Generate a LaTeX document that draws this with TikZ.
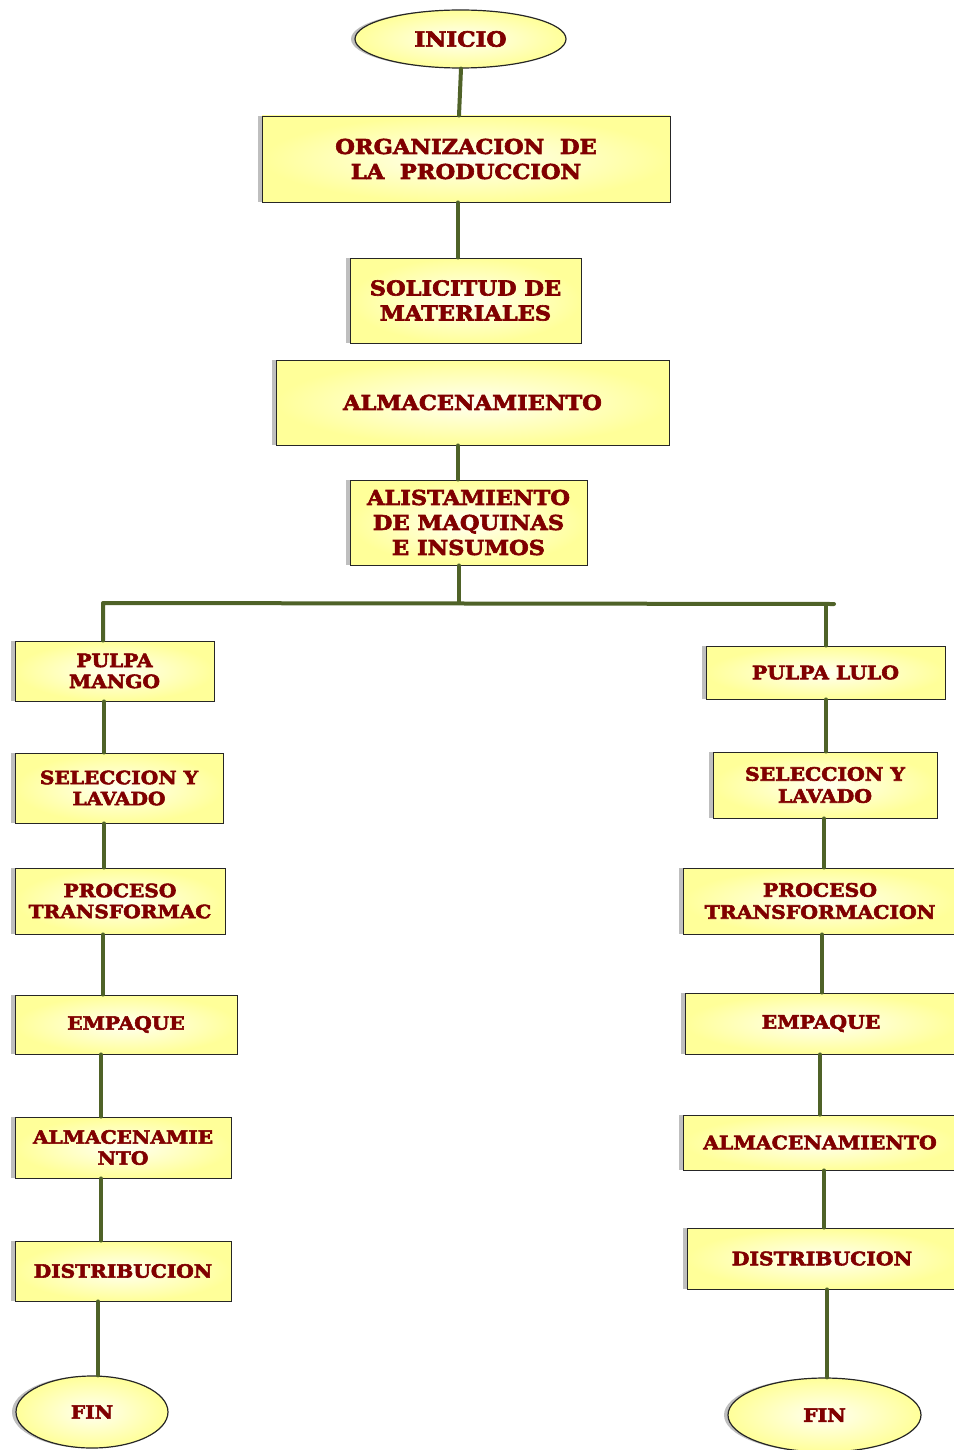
\documentclass[tikz,border=0pt]{standalone}
\usepackage{fontspec}
\usetikzlibrary{shapes.geometric,shadows}
\newfontfamily\lblfont[FakeStretch=1.1, BoldFeatures={FakeBold=3}]{DejaVu Serif}
\definecolor{lbltext}{HTML}{800000}
\definecolor{connclr}{HTML}{4F6228}
\definecolor{boxfill}{HTML}{FFFF99}
\definecolor{boxcore}{HTML}{FFFFF2}
\newcommand{\fs}[2]{\fontsize{#1}{#2}\selectfont}
\tikzset{
  leftshadow/.style={general shadow={shadow xshift=-4pt, shadow yshift=0pt, fill=black!25}},
  box/.style={rectangle, draw=black!85, line width=0.9pt, inner color=boxcore, outer color=boxfill,
    leftshadow, align=center, text=lbltext, inner sep=0pt},
  oval/.style={ellipse, draw=black!85, line width=1.2pt, inner color=boxcore, outer color=boxfill,
    leftshadow, text=lbltext, inner sep=0pt},
  bigtxt/.style={font=\lblfont\bfseries\fs{20.5}{25}},
  hugetxt/.style={font=\lblfont\bfseries\fs{20.5}{25}},
  ovaltxt/.style={font=\lblfont\bfseries\fs{21}{22}},
  lefttxt/.style={font=\lblfont\bfseries\fs{18.3}{21}},
  righttxt/.style={font=\lblfont\bfseries\fs{18.5}{22}},
  conn/.style={draw=connclr, line width=4pt, line cap=round, line join=round},
}
\begin{document}
\begin{tikzpicture}[x=1pt,y=-1pt]
\useasboundingbox (0,0) rectangle (953,1450);

% main trunk
\node[oval, ovaltxt, minimum width=211pt, minimum height=58pt] (inicio) at (460.5,39) {INICIO};
\node[box, bigtxt, minimum width=408pt, minimum height=86pt] (org) at (466,159)
  {ORGANIZACION\ \ DE\\LA\ \ PRODUCCION};
\node[box, bigtxt, minimum width=231pt, minimum height=85pt] (sol) at (465.5,300.5)
  {SOLICITUD DE\\MATERIALES};
\node[box, hugetxt, minimum width=393pt, minimum height=85pt] (alm) at (472.5,402.5)
  {ALMACENAMIENTO};
\node[box, bigtxt, minimum width=237pt, minimum height=85pt] (alist) at (468.5,522.5)
  {ALISTAMIENTO\\DE MAQUINAS\\E INSUMOS};

% left branch
\node[box, lefttxt, minimum width=199pt, minimum height=60pt] (lmango) at (114.5,671)
  {PULPA\\MANGO};
\node[box, lefttxt, minimum width=208pt, minimum height=70pt] (lsel) at (119,788)
  {SELECCION Y\\LAVADO};
\node[box, lefttxt, minimum width=210pt, minimum height=66pt] (lproc) at (120,901)
  {PROCESO\\TRANSFORMAC};
\node[box, lefttxt, minimum width=222pt, minimum height=59pt] (lemp) at (126,1024.5)
  {EMPAQUE};
\node[box, lefttxt, minimum width=216pt, minimum height=61pt] (lalm) at (123,1147.5)
  {ALMACENAMIE\\NTO};
\node[box, lefttxt, minimum width=216pt, minimum height=60pt] (ldist) at (123,1271)
  {DISTRIBUCION};
\node[oval, lefttxt, minimum width=152pt, minimum height=72pt] (lfin) at (92,1412) {FIN};

% right branch
\node[box, righttxt, minimum width=239pt, minimum height=53pt] (rlulo) at (825.5,672.5)
  {PULPA LULO};
\node[box, righttxt, minimum width=224pt, minimum height=66pt] (rsel) at (825,785)
  {SELECCION Y\\LAVADO};
\node[box, righttxt, minimum width=274pt, minimum height=66pt] (rproc) at (820,901)
  {PROCESO\\TRANSFORMACION};
\node[box, righttxt, minimum width=272pt, minimum height=61pt] (remp) at (821,1023.5)
  {EMPAQUE};
\node[box, righttxt, minimum width=274pt, minimum height=55pt] (ralm) at (820,1142.5)
  {ALMACENAMIENTO};
\node[box, righttxt, minimum width=270pt, minimum height=61pt] (rdist) at (822,1258.5)
  {DISTRIBUCION};
\node[oval, righttxt, minimum width=193pt, minimum height=74pt] (rfin) at (824.5,1415) {FIN};

% connectors of the trunk
\draw[conn] ([xshift=0.5pt]inicio.south) -- ([xshift=-7pt]org.north);
\draw[conn] ([xshift=-8pt]org.south) -- ([xshift=-7.5pt]sol.north);
\draw[conn] ([xshift=-14.5pt]alm.south) -- ([xshift=-10.5pt]alist.north);

% split into the two product lines
\coordinate (jl) at (103,603);
\coordinate (jr) at (834,604);
\draw[conn] ([xshift=-9.5pt]alist.south) -- ([xshift=-9.5pt]alist.south |- jl);
\draw[conn] ([xshift=-11.5pt]lmango.north) -- (jl) -- (jr);
\draw[conn] ([xshift=0.5pt]rlulo.north |- jr) -- ([xshift=0.5pt]rlulo.north);

% left connectors
\draw[conn] ([xshift=-10.5pt]lmango.south) -- ([xshift=-15pt]lsel.north);
\draw[conn] ([xshift=-15pt]lsel.south) -- ([xshift=-16pt]lproc.north);
\draw[conn] ([xshift=-17pt]lproc.south) -- ([xshift=-23pt]lemp.north);
\draw[conn] ([xshift=-25pt]lemp.south) -- ([xshift=-22pt]lalm.north);
\draw[conn] ([xshift=-22pt]lalm.south) -- ([xshift=-22pt]ldist.north);
\draw[conn] ([xshift=-25pt]ldist.south) -- ([xshift=6pt]lfin.north);

% right connectors
\draw[conn] ([xshift=0.5pt]rlulo.south) -- ([xshift=1pt]rsel.north);
\draw[conn] ([xshift=-1pt]rsel.south) -- ([xshift=4pt]rproc.north);
\draw[conn] ([xshift=2pt]rproc.south) -- ([xshift=1pt]remp.north);
\draw[conn] ([xshift=-1pt]remp.south) -- (ralm.north);
\draw[conn] ([xshift=4pt]ralm.south) -- ([xshift=2pt]rdist.north);
\draw[conn] ([xshift=5pt]rdist.south) -- ([xshift=2.5pt]rfin.north);
\end{tikzpicture}
\end{document}
